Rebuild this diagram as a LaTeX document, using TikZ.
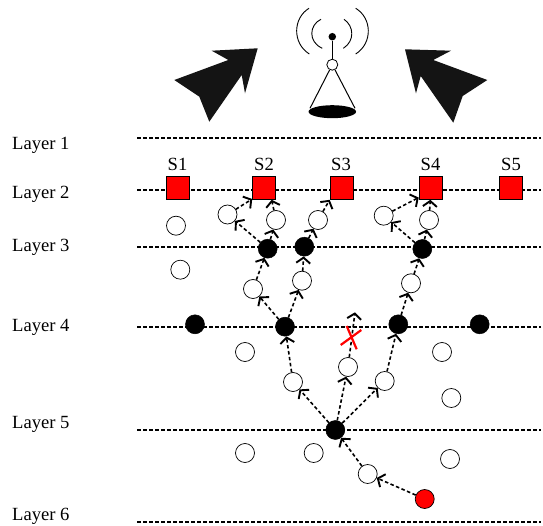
\documentclass[tikz,border=0pt]{standalone}
\usepackage{fontspec}
\setmainfont{Liberation Serif}
\usetikzlibrary{arrows.meta,shapes.geometric}
\tikzset{
  layerline/.style={line width=1.7pt,dash pattern=on 3.5pt off 2.5pt},
  laylabel/.style={anchor=west,inner sep=0pt,font=\fontsize{18.6}{22}\selectfont},
  slabel/.style={inner sep=0pt,font=\fontsize{18.6}{22}\selectfont},
  sink/.style={draw=black,fill=red,line width=0.6pt,minimum size=23pt,inner sep=0pt},
  opennode/.style={circle,draw=black,fill=white,line width=0.7pt,minimum size=19pt,inner sep=0pt},
  headnode/.style={circle,fill=black,draw=black,line width=0.5pt,minimum size=19pt,inner sep=0pt},
  sourcenode/.style={circle,fill=red,draw=black,line width=0.7pt,minimum size=19pt,inner sep=0pt},
  link/.style={line width=1.6pt,dash pattern=on 3.5pt off 2.5pt,-{Straight Barb[length=5.5pt,width=14pt,line width=1.9pt]}},
  bigarrow/.style={fill=black!92,draw=none},
  antline/.style={line width=1pt,black},
  waveline/.style={line width=0.9pt,black},
  crossline/.style={red,line width=2.2pt}
}
\begin{document}
\begin{tikzpicture}[x=1pt,y=-1pt]
\useasboundingbox (0,0) rectangle (543,526);
% layers
\foreach \n/\yy/\ly in {1/138/145,2/190/194.5,3/247/247.5,4/326.7/327.5,5/429.7/424.5,6/521.7/516.5}{
  \coordinate (L\n a) at (137,\yy);
  \coordinate (L\n b) at (541,\yy);
  \draw[layerline] (L\n a) -- (L\n b);
  \node[laylabel] (LL\n) at (12,\ly) {Layer \n};
}
% big arrows
\fill[bigarrow] (257.7,48.3)--(211.7,50.7)--(228.3,60)--(174.3,80)--(199.3,96.7)--(209.3,121.7)--(241.7,75)--(245,93.3)--cycle;
\fill[bigarrow] (405,49.3)--(451,50.7)--(433.3,60)--(487.3,80)--(462.7,96)--(453.3,122.7)--(420.7,76)--(416,93.3)--cycle;
% antenna
\node[circle,fill=black,minimum size=7.5pt,inner sep=0pt] (antdot) at (332.3,36.7) {};
\node[circle,draw=black,fill=white,line width=0.8pt,minimum size=11pt,inner sep=0pt] (anthub) at (332.3,64.7) {};
\node[ellipse,fill=black,minimum width=47.5pt,minimum height=13pt,inner sep=0pt] (antdish) at (332.3,111.7) {};
\draw[antline] (antdot) -- (anthub);
\draw[antline] (anthub) -- (310,108.3) (anthub) -- (355,108.3);
\draw[waveline] (321,19.3) .. controls (309,25) and (308,42) .. (322.3,48.3);
\draw[waveline] (309,8.3) .. controls (293,18) and (292,43) .. (309.3,54);
\draw[waveline] (344,19.3) .. controls (354,26) and (355,41) .. (343.3,48.3);
\draw[waveline] (355.7,8.3) .. controls (372,18) and (373,43) .. (355.7,54);
% sinks
\node[sink] (S1) at (178,188) {};
\node[sink] (S2) at (264,188) {};
\node[sink] (S3) at (341.5,188) {};
\node[sink] (S4) at (430.5,188) {};
\node[sink] (S5) at (511,188) {};
\foreach \s/\x in {1/177.5,2/264,3/341,4/430.5,5/511}{
  \node[slabel] (SL\s) at (\x,164) {S\s};
}
% open nodes
\foreach \nm/\x/\y in {a/227.5/214.5,b/276/220,c/318/220,d/176/225.7,e/180.3/269.7,f/253/289,g/302/280.7,
  h/383.7/215.7,i/429/220,j/411/283.3,k/245/352,l/293/382,m/348/367,n/384.7/381,o/442/352,p/451.3/398,
  q/245/453,r/313.7/453,s/367.7/474,t/450/459}{
  \node[opennode] (\nm) at (\x,\y) {};
}
% black nodes
\foreach \nm/\x/\y in {A/267.7/248.7,B/304.3/246.7,C/195/324.3,D/285/326.7,E/422.3/249,F/398.3/324.3,G/479.7/324.3,H/335.3/430}{
  \node[headnode] (\nm) at (\x,\y) {};
}
\node[sourcenode] (src) at (424.7,499) {};
\coordinate (dangle) at (355,312.3);
% connectors
\draw[link] (a) -- (S2.-137);
\draw[link] (b) -- (S2.-57);
\draw[link] (c) -- (S3.south west);
\draw[link] (h) -- (S4.-141);
\draw[link] (i) -- (S4.-91);
\draw[link] (A) -- (a);
\draw[link] (A) -- (b);
\draw[link] (B) -- (c);
\draw[link] (g) -- (B);
\draw[link] (f) -- (A);
\draw[link] (D) -- (f);
\draw[link] (D) -- (g);
\draw[link] (l) -- (D);
\draw[link] (H) -- (l);
\draw[link] (H) -- (m);
\draw[link] (H) -- (n);
\draw[link] (n) -- (F);
\draw[link] (m) -- (dangle);
\draw[link] (E) -- (h);
\draw[link] (E) -- (i);
\draw[link] (j) -- (E);
\draw[link] (F) -- (j);
\draw[link] (s) -- (H);
\draw[link] (src) -- (s);
% cross
\coordinate (xa) at (346.7,326);
\coordinate (xb) at (356.7,349.3);
\coordinate (xc) at (340.7,345);
\coordinate (xd) at (361.3,330);
\draw[crossline] (xa) -- (xb);
\draw[crossline] (xc) -- (xd);
\end{tikzpicture}
\end{document}
